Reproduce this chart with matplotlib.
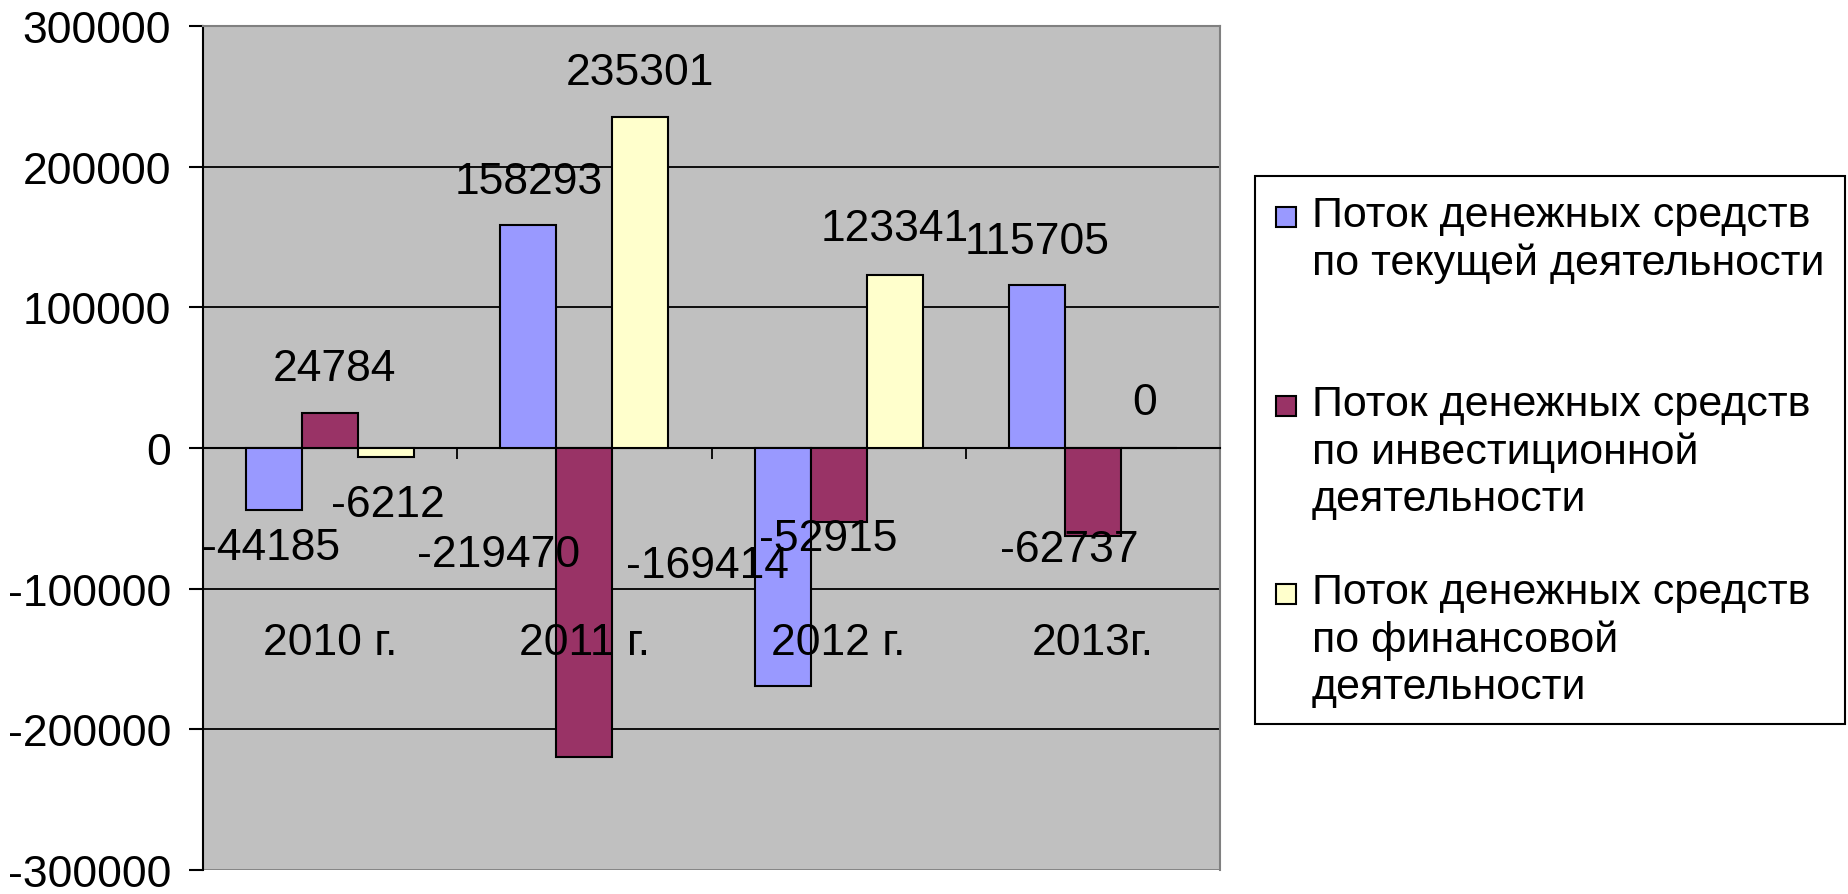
import matplotlib
matplotlib.use('Agg')
import matplotlib.pyplot as plt
from matplotlib.patches import Rectangle
import numpy as np

years = ['2010 г.', '2011 г.', '2012 г.', '2013г.']
current_flow = [-44185, 158293, -169414, 115705]
invest_flow = [24784, -219470, -52915, -62737]
finance_flow = [-6212, 235301, 123341, 0]
series_names = [
    'Поток денежных средств\nпо текущей деятельности',
    'Поток денежных средств\nпо инвестиционной\nдеятельности',
    'Поток денежных средств\nпо финансовой\nдеятельности',
]
colors = ['#9999FF', '#993366', '#FFFFCC']

# label nudges (pixels) from bar end - several labels were dragged by hand in the original
label_offsets = [
    [(-3, -37), (0, 44), (-75, 121), (0, 44)],
    [(4, 45), (-86, 202), (-10, -16), (-24, -13)],
    [(2, -48), (0, 45), (0, 46), (-4, 45)],
]

plt.rcParams['font.family'] = ['Liberation Sans', 'DejaVu Sans']
plt.rcParams['axes.unicode_minus'] = False
FS = 32
LEG_FS = 31
W, H = 1848, 895

fig = plt.figure(figsize=(W / 100, H / 100), dpi=100)
ax = fig.add_axes([203 / W, (H - 871) / H, (1220 - 203) / W, (871 - 27) / H])
ax.set_facecolor('#C0C0C0')

x = np.arange(len(years))
width = 0.22
series = [current_flow, invest_flow, finance_flow]
for i, (vals, c) in enumerate(zip(series, colors)):
    bars = ax.bar(x + (i - 1) * width, vals, width, color=c, edgecolor='black',
                  linewidth=1.5, zorder=3)
    for b, v, (dx, dy) in zip(bars, vals, label_offsets[i]):
        ax.annotate(str(v), (b.get_x() + b.get_width() / 2, v), xytext=(dx, dy),
                    textcoords='offset pixels', ha='center', va='center',
                    fontsize=FS, zorder=5)

ax.set_xlim(-0.5, 3.5)
ax.set_ylim(-300000, 300000)
ax.set_yticks(np.arange(-300000, 300001, 100000))
ax.yaxis.set_major_formatter(matplotlib.ticker.FormatStrFormatter('%d'))
ax.tick_params(axis='y', labelsize=FS, length=10, width=1.5, pad=13, direction='out')
ax.set_axisbelow(True)
ax.grid(axis='y', color='black', linewidth=1.3)
gl = ax.yaxis.get_gridlines()
gl[0].set_color('#808080')
gl[-1].set_color('#808080')

ax.set_xticks([0.5, 1.5, 2.5])
ax.set_xticklabels([])
ax.tick_params(axis='x', length=8, width=1.3, direction='out')
ax.spines['bottom'].set_position(('data', 0))
ax.spines['bottom'].set_linewidth(1.5)
ax.spines['left'].set_linewidth(1.5)
for s in ['top', 'right']:
    ax.spines[s].set_color('#808080')
    ax.spines[s].set_linewidth(1.5)

for xi, name in zip(x, years):
    ax.text(xi, -138000, name, ha='center', va='center', fontsize=FS, zorder=5)

# legend box drawn by hand to keep the marker on the first line of each entry
fig.patches.append(Rectangle((1255 / W, 1 - 725 / H), (1845 - 1255) / W, (725 - 177) / H,
                             transform=fig.transFigure, facecolor='white',
                             edgecolor='black', linewidth=1.5))
for name, c, yc in zip(series_names, colors, [218, 407, 595]):
    fig.patches.append(Rectangle((1276 / W, 1 - (yc + 10) / H), 20 / W, 20 / H,
                                 transform=fig.transFigure, facecolor=c,
                                 edgecolor='black', linewidth=1.5))
    fig.text(1312 / W, 1 - (yc - 22) / H, name, ha='left', va='top',
             fontsize=LEG_FS, linespacing=1.24)

fig.savefig('out.png', dpi=100)
